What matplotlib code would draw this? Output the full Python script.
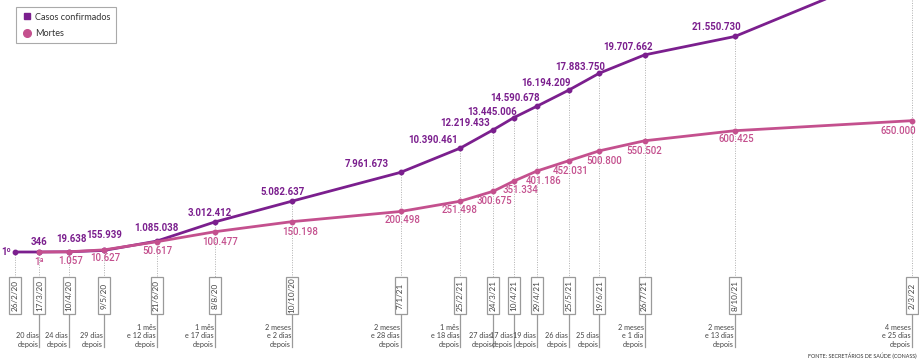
import numpy as np
import matplotlib
matplotlib.use("Agg")
import matplotlib.pyplot as plt
import matplotlib.dates as mdates
from matplotlib.lines import Line2D
from matplotlib.patches import Rectangle
import datetime as dt

# dados (Conass)
datas = ["26/2/20", "17/3/20", "10/4/20", "9/5/20", "21/6/20", "8/8/20", "10/10/20",
         "7/1/21", "25/2/21", "24/3/21", "10/4/21", "29/4/21", "25/5/21", "19/6/21",
         "26/7/21", "8/10/21", "2/3/22"]
casos = [1, 346, 19638, 155939, 1085038, 3012412, 5082637, 7961673, 10390461,
         12219433, 13445006, 14590678, 16194209, 17883750, 19707662, 21550730, 28850000]
mortes = [np.nan, 1, 1057, 10627, 50617, 100477, 150198, 200498, 251498, 300675,
          351334, 401186, 452031, 500800, 550502, 600425, 650000]
intervalos = ["", "20 dias\ndepois", "24 dias\ndepois", "29 dias\ndepois",
              "1 mês\ne 12 dias\ndepois", "1 mês\ne 17 dias\ndepois",
              "2 meses\ne 2 dias\ndepois", "2 meses\ne 28 dias\ndepois",
              "1 mês\ne 18 dias\ndepois", "27 dias\ndepois", "17 dias\ndepois",
              "19 dias\ndepois", "26 dias\ndepois", "25 dias\ndepois",
              "2 meses\ne 1 dia\ndepois", "2 meses\ne 13 dias\ndepois",
              "4 meses\ne 25 dias\ndepois"]

# posicao dos rotulos em pixels (dx, dy, alinhamento) - so estilo
rot_casos = [(-4, 0, "right"), (0, -10, "center"), (3, -13, "center"), (0, -15, "center"),
             (0, -13, "center"), (-5, -9, "center"), (-9, -9, "center"), (-12, -8, "right"),
             (-2, -8, "right"), (-3, -7, "right"), (3, -6, "right"), (3, -8, "right"),
             (2, -7, "right"), (6, -6, "right"), (8, -8, "right"), (6, -9, "right"), None]
rot_mortes = [None, (0, 10, "center"), (2, 9, "center"), (1, 8, "center"), (1, 9, "center"),
              (5, 10, "center"), (8, 10, "center"), (2, 9, "center"), (-1, 9, "center"),
              (1, 10, "center"), (6, 9, "center"), (6, 10, "center"), (2, 10, "center"),
              (5, 10, "center"), (0, 10, "center"), (2, 8, "center"), (4, 10, "right")]

ROXO = "#7b1f8e"
ROSA = "#c4508e"
CINZA = "#9a9a9a"
TXT = "#444444"
FONTE = ["Roboto", "DejaVu Sans"]
FONTE_P = ["Lato", "Roboto", "DejaVu Sans"]

W, H = 919, 361
x = np.array([mdates.date2num(dt.datetime.strptime(d, "%d/%m/%y")) for d in datas])

fig = plt.figure(figsize=(W / 100, H / 100), dpi=100)
ax = fig.add_axes([0, 0, 1, 1])
ax2 = ax.twinx()
for a in (ax, ax2):
    a.set_axis_off()

px_dia = 1.22
x0 = x[0] - 15 / px_dia
ax.set_xlim(x0, x0 + W / px_dia)
# y: zero em 252 px a partir do topo
ax.set_ylim(-(H - 252) * 1e5, 252 * 1e5)
ax2.set_ylim(-(H - 252) * 4950, 252 * 4950)


def ypx(p):
    lo, hi = ax.get_ylim()
    return lo + (H - p) / H * (hi - lo)


def fmt(v):
    return f"{int(v):,}".replace(",", ".")


caixa_top, caixa_bot, haste_bot = 277, 314, 347
larg = 12 / px_dia
for i, xi in enumerate(x):
    ax.plot([xi, xi], [min(casos[i], ypx(0)), ypx(caixa_top)], color="#b0b0b0", lw=0.7,
            ls=(0, (1, 1.5)), zorder=1)
    ax.add_patch(Rectangle((xi - larg / 2, ypx(caixa_bot)), larg, ypx(caixa_top) - ypx(caixa_bot),
                           facecolor="white", edgecolor=CINZA, lw=0.9, zorder=2))
    ax.text(xi, ypx((caixa_top + caixa_bot) / 2), datas[i], rotation=90, ha="center",
            va="center", fontsize=5.9, color=TXT, family=FONTE_P, zorder=3)
    if intervalos[i]:
        ax.plot([xi, xi], [ypx(caixa_bot), ypx(haste_bot)], color=CINZA, lw=0.9, zorder=1)
        ax.text(xi - 1.0 / px_dia, ypx(haste_bot + 1), intervalos[i], ha="right", va="bottom",
                multialignment="right", fontsize=5.2, color=TXT, family=FONTE_P,
                linespacing=1.25)

ax.plot(x, casos, color=ROXO, lw=2.0, marker="o", ms=3.2, zorder=5, solid_capstyle="round")
ax2.plot(x, mortes, color=ROSA, lw=2.0, marker="o", ms=3.2, zorder=5, solid_capstyle="round")

for i in range(len(x)):
    if rot_casos[i]:
        dx, dy, ha = rot_casos[i]
        txt = "1º" if casos[i] == 1 else fmt(casos[i])
        ax.annotate(txt, (x[i], casos[i]), xytext=(dx * 0.72, -dy * 0.72),
                    textcoords="offset points", ha=ha, va="center", fontsize=6.9,
                    fontweight="bold", color=ROXO, family=FONTE, zorder=6)
    if rot_mortes[i]:
        dx, dy, ha = rot_mortes[i]
        txt = "1ª" if mortes[i] == 1 else fmt(mortes[i])
        ax2.annotate(txt, (x[i], mortes[i]), xytext=(dx * 0.72, -dy * 0.72),
                     textcoords="offset points", ha=ha, va="center", fontsize=6.9,
                     fontweight="medium", color=ROSA, family=FONTE, zorder=6)

alcas = [Line2D([], [], color=ROXO, marker="s", ls="none", ms=5, label="Casos confirmados"),
         Line2D([], [], color=ROSA, marker="o", ls="none", ms=5.5, label="Mortes")]
leg = fig.legend(handles=alcas, loc="upper left", bbox_to_anchor=(16 / W, 1 - 7 / H),
                 frameon=True, fancybox=False, edgecolor="#aaaaaa", framealpha=1,
                 prop={"family": FONTE_P, "size": 6.6}, handletextpad=0.4, handlelength=1.1,
                 borderpad=0.6, labelspacing=0.8, borderaxespad=0)
leg.get_frame().set_linewidth(0.8)
for t in leg.get_texts():
    t.set_color("#333333")

fig.text(917 / W, 1 - 356 / H, "FONTE: SECRETÁRIOS DE SAÚDE (CONASS)", fontsize=3.9,
         color="#333333", family=FONTE_P, va="center", ha="right")

fig.savefig("out.png", dpi=100)
